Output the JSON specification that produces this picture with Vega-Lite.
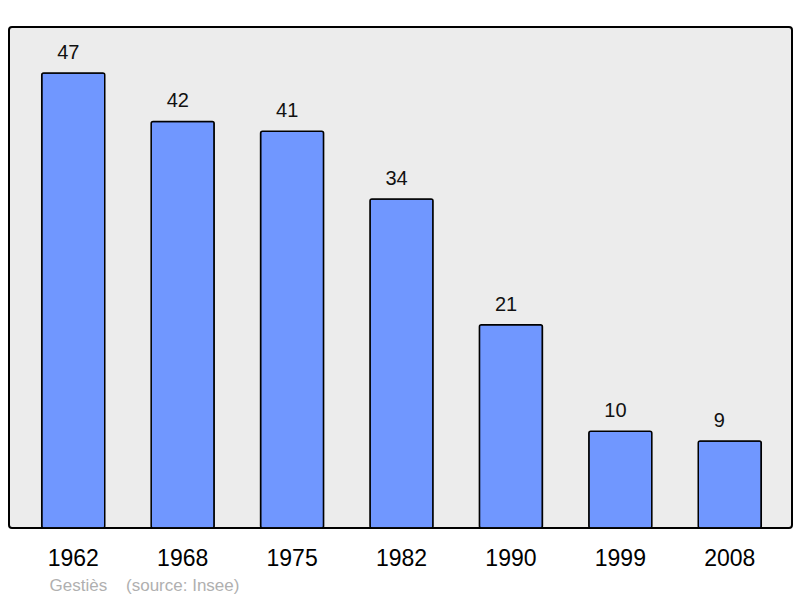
{
  "$schema": "https://vega.github.io/schema/vega-lite/v6.json",
  "width": 783,
  "height": 501,
  "autosize": "none",
  "padding": {"left": 9, "top": 27, "right": 8, "bottom": 70},
  "background": "#ffffff",
  "config": {
    "view": {"fill": "#ececec", "stroke": "#000000", "strokeWidth": 2, "cornerRadius": 3},
    "font": "Liberation Sans"
  },
  "data": {
    "values": [
      {"year": "1962", "pop": 47},
      {"year": "1968", "pop": 42},
      {"year": "1975", "pop": 41},
      {"year": "1982", "pop": 34},
      {"year": "1990", "pop": 21},
      {"year": "1999", "pop": 10},
      {"year": "2008", "pop": 9}
    ]
  },
  "encoding": {
    "x": {
      "field": "year",
      "type": "nominal",
      "sort": null,
      "scale": {"paddingInner": 0.424, "paddingOuter": 0.29, "range": [1, 784]},
      "axis": {
        "title": "Gestiès\u00a0\u00a0\u00a0\u00a0(source: Insee)",
        "titleColor": "#b0b0b0",
        "titleFontSize": 17,
        "titleFontWeight": "normal",
        "titleFont": "Liberation Sans",
        "titleAnchor": "start",
        "titleAlign": "left",
        "titleBaseline": "alphabetic",
        "titleX": 40,
        "titleY": 62,
        "domain": false,
        "ticks": false,
        "tickSize": 0,
        "labelAngle": 0,
        "labelFontSize": 23,
        "labelColor": "#000000",
        "labelBaseline": "alphabetic",
        "labelPadding": 37,
        "grid": false
      }
    },
    "y": {
      "field": "pop",
      "type": "quantitative",
      "scale": {"domain": [0, 51.76], "nice": false, "zero": true},
      "axis": null
    }
  },
  "layer": [
    {
      "mark": {"type": "bar", "fill": "#7097ff", "stroke": "#000000", "strokeWidth": 1.5, "cornerRadius": 2}
    },
    {
      "mark": {"type": "text", "align": "left", "baseline": "alphabetic", "dx": -16, "dy": -14, "fontSize": 20, "color": "#111111"},
      "encoding": {"text": {"field": "pop", "type": "quantitative"}}
    }
  ]
}
